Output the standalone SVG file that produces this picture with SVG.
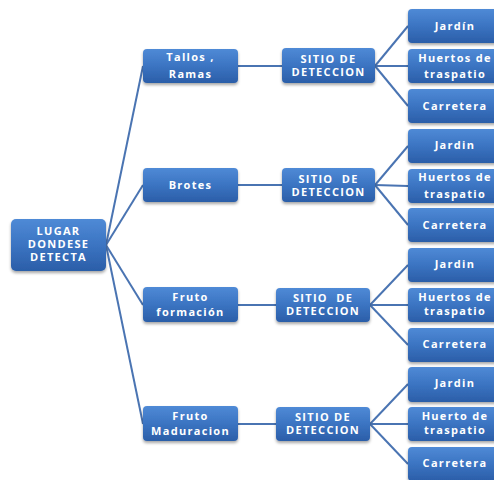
<svg xmlns="http://www.w3.org/2000/svg" width="494" height="480" viewBox="0 0 494 480">
  <defs>
    <linearGradient id="boxFill" x1="0" y1="0" x2="0" y2="1">
      <stop offset="0" stop-color="#4f8ad6"/>
      <stop offset="0.5" stop-color="#3b74c2"/>
      <stop offset="1" stop-color="#2b5ea8"/>
    </linearGradient>
    <filter id="shadow" x="-20%" y="-20%" width="140%" height="160%">
      <feDropShadow dx="0" dy="2" stdDeviation="1.6" flood-color="#000" flood-opacity="0.35"/>
    </filter>
  </defs>
  <style>
    .box { fill: url(#boxFill); filter: url(#shadow); }
    .lbl { font-family: "Open Sans", "Noto Sans", sans-serif; font-weight: bold; font-size: 11px; fill: #ffffff; text-anchor: middle; letter-spacing: 1.3px; white-space: pre; }
    .link { stroke: #4a74b2; stroke-width: 2; fill: none; }
  </style>
  <rect width="494" height="480" fill="#ffffff"/>

  <!-- connectors -->
  <g id="connectors">
    <line class="link" x1="106" y1="245" x2="143" y2="66"/>
    <line class="link" x1="106" y1="245" x2="143" y2="185"/>
    <line class="link" x1="106" y1="245" x2="143" y2="305"/>
    <line class="link" x1="106" y1="245" x2="143" y2="424"/>

    <line class="link" x1="238" y1="66" x2="282" y2="66"/>
    <line class="link" x1="238" y1="185" x2="282" y2="185"/>
    <line class="link" x1="238" y1="305" x2="276" y2="305"/>
    <line class="link" x1="238" y1="424" x2="276" y2="424"/>

    <line class="link" x1="375" y1="66" x2="408" y2="26"/>
    <line class="link" x1="375" y1="66" x2="408" y2="66"/>
    <line class="link" x1="375" y1="66" x2="408" y2="106"/>

    <line class="link" x1="375" y1="185" x2="408" y2="146"/>
    <line class="link" x1="375" y1="185" x2="408" y2="186"/>
    <line class="link" x1="375" y1="185" x2="408" y2="225"/>

    <line class="link" x1="370" y1="305" x2="408" y2="265"/>
    <line class="link" x1="370" y1="305" x2="408" y2="305"/>
    <line class="link" x1="370" y1="305" x2="408" y2="345"/>

    <line class="link" x1="370" y1="424" x2="408" y2="384"/>
    <line class="link" x1="370" y1="424" x2="408" y2="424"/>
    <line class="link" x1="370" y1="424" x2="408" y2="464"/>
  </g>

  <!-- root -->
  <g id="root">
    <rect class="box" x="11" y="219" width="95" height="52" rx="5"/>
    <text class="lbl" x="58.5" y="235">LUGAR</text>
    <text class="lbl" x="58.5" y="248">DONDESE</text>
    <text class="lbl" x="58.5" y="261">DETECTA</text>
  </g>

  <!-- first level: plant part -->
  <g id="tallos">
    <rect class="box" x="143" y="49" width="95" height="34" rx="4"/>
    <text class="lbl" x="190.5" y="61">Tallos ,</text>
    <text class="lbl" x="190.5" y="78">Ramas</text>
  </g>
  <g id="brotes">
    <rect class="box" x="143" y="168" width="95" height="34" rx="4"/>
    <text class="lbl" x="190.5" y="189">Brotes</text>
  </g>
  <g id="fruto-formacion">
    <rect class="box" x="143" y="287" width="95" height="35" rx="4"/>
    <text class="lbl" x="190.5" y="301">Fruto</text>
    <text class="lbl" x="190.5" y="316">formación</text>
  </g>
  <g id="fruto-maduracion">
    <rect class="box" x="143" y="406" width="95" height="35" rx="4"/>
    <text class="lbl" x="190.5" y="420">Fruto</text>
    <text class="lbl" x="190.5" y="435">Maduracion</text>
  </g>

  <!-- second level: detection site -->
  <g id="sitio-1">
    <rect class="box" x="282" y="48" width="93" height="35" rx="4"/>
    <text class="lbl" x="328.5" y="63">SITIO DE</text>
    <text class="lbl" x="328.5" y="76">DETECCION</text>
  </g>
  <g id="sitio-2">
    <rect class="box" x="282" y="168" width="93" height="34" rx="4"/>
    <text class="lbl" x="328.5" y="183">SITIO  DE</text>
    <text class="lbl" x="328.5" y="196">DETECCION</text>
  </g>
  <g id="sitio-3">
    <rect class="box" x="276" y="288" width="94" height="34" rx="4"/>
    <text class="lbl" x="323" y="302">SITIO  DE</text>
    <text class="lbl" x="323" y="315">DETECCION</text>
  </g>
  <g id="sitio-4">
    <rect class="box" x="276" y="407" width="94" height="34" rx="4"/>
    <text class="lbl" x="323" y="421">SITIO DE</text>
    <text class="lbl" x="323" y="434">DETECCION</text>
  </g>

  <!-- third level: places -->
  <g id="jardin-1">
    <rect class="box" x="408" y="9" width="95" height="34" rx="4"/>
    <text class="lbl" x="455" y="30">Jardín</text>
  </g>
  <g id="huertos-1">
    <rect class="box" x="408" y="49" width="95" height="34" rx="4"/>
    <text class="lbl" x="455" y="62">Huertos de</text>
    <text class="lbl" x="455" y="78">traspatio</text>
  </g>
  <g id="carretera-1">
    <rect class="box" x="408" y="89" width="95" height="34" rx="4"/>
    <text class="lbl" x="455" y="110">Carretera</text>
  </g>

  <g id="jardin-2">
    <rect class="box" x="408" y="129" width="95" height="34" rx="4"/>
    <text class="lbl" x="455" y="149">Jardin</text>
  </g>
  <g id="huertos-2">
    <rect class="box" x="408" y="169" width="95" height="34" rx="4"/>
    <text class="lbl" x="455" y="181">Huertos de</text>
    <text class="lbl" x="455" y="198">traspatio</text>
  </g>
  <g id="carretera-2">
    <rect class="box" x="408" y="208" width="95" height="34" rx="4"/>
    <text class="lbl" x="455" y="229">Carretera</text>
  </g>

  <g id="jardin-3">
    <rect class="box" x="408" y="248" width="95" height="34" rx="4"/>
    <text class="lbl" x="455" y="268">Jardin</text>
  </g>
  <g id="huertos-3">
    <rect class="box" x="408" y="288" width="95" height="34" rx="4"/>
    <text class="lbl" x="455" y="301">Huertos de</text>
    <text class="lbl" x="455" y="315">traspatio</text>
  </g>
  <g id="carretera-3">
    <rect class="box" x="408" y="328" width="95" height="34" rx="4"/>
    <text class="lbl" x="455" y="348">Carretera</text>
  </g>

  <g id="jardin-4">
    <rect class="box" x="408" y="367" width="95" height="35" rx="4"/>
    <text class="lbl" x="455" y="387">Jardin</text>
  </g>
  <g id="huerto-4">
    <rect class="box" x="408" y="407" width="95" height="34" rx="4"/>
    <text class="lbl" x="455" y="420">Huerto de</text>
    <text class="lbl" x="455" y="434">traspatio</text>
  </g>
  <g id="carretera-4">
    <rect class="box" x="408" y="447" width="95" height="34" rx="4"/>
    <text class="lbl" x="455" y="467">Carretera</text>
  </g>
</svg>
